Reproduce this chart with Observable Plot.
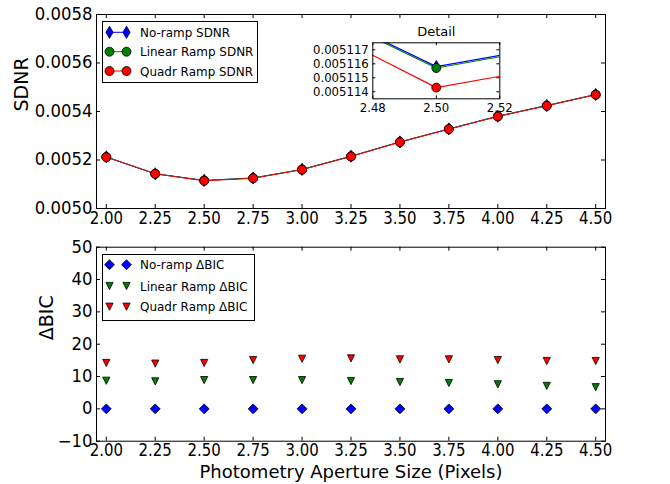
<!DOCTYPE html>
<html><head><meta charset="utf-8">
<script src="https://cdn.jsdelivr.net/npm/d3@7"></script>
<script src="https://cdn.jsdelivr.net/npm/@observablehq/plot@0.6"></script>
<style>
body{margin:0;background:#fff;}
#chart{position:relative;width:670px;height:484px;font-family:"DejaVu Sans",sans-serif;background:#fff;}
#chart > *{position:absolute;}
</style></head><body><div id="chart"></div>
<script>
// ---------- data ----------
const apertures = [2.00, 2.25, 2.50, 2.75, 3.00, 3.25, 3.50, 3.75, 4.00, 4.25, 4.50];
const sdnrNoRamp = [0.0052128, 0.0051432, 0.0051158, 0.0051258, 0.0051612, 0.0052156, 0.0052746, 0.0053282, 0.0053806, 0.0054247, 0.0054702];
const sdnrLinear = [0.0052125, 0.0051431, 0.0051157, 0.0051257, 0.0051610, 0.0052154, 0.0052744, 0.0053280, 0.0053804, 0.0054245, 0.0054700];
const sdnrQuadr  = [0.0052116, 0.0051431, 0.0051143, 0.0051244, 0.0051600, 0.0052144, 0.0052734, 0.0053270, 0.0053794, 0.0054235, 0.0054690];
const bicNoRamp = [0, 0, 0, 0, 0, 0, 0, 0, 0, 0, 0];
const bicLinear = [8.7, 8.5, 8.9, 8.9, 8.9, 8.6, 8.3, 8.0, 7.6, 7.1, 6.7];
const bicQuadr  = [14.2, 14.0, 14.2, 15.1, 15.5, 15.6, 15.3, 15.3, 15.1, 14.8, 14.8];
const xTicks = [2.00, 2.25, 2.50, 2.75, 3.00, 3.25, 3.50, 3.75, 4.00, 4.25, 4.50];
const sdnrTicks = [0.0050, 0.0052, 0.0054, 0.0056, 0.0058];
const bicTicks = [-10, 0, 10, 20, 30, 40, 50];
const insetXTicks = [2.48, 2.50, 2.52];
const insetYTicks = [0.005114, 0.005115, 0.005116, 0.005117];
const sdnrLabels = ["No-ramp SDNR", "Linear Ramp SDNR", "Quadr Ramp SDNR"];
const bicLabels = ["No-ramp \u0394BIC", "Linear Ramp \u0394BIC", "Quadr Ramp \u0394BIC"];
const colors = ["#0000ff", "#008000", "#ff0000"];

// ---------- symbols ----------
const symThinDiamond = {draw(c, s){const r=Math.sqrt(s/Math.PI); const h=r*1.35, w=r*0.8; c.moveTo(0,-h);c.lineTo(w,0);c.lineTo(0,h);c.lineTo(-w,0);c.closePath();}};
const symCircle = d3.symbolCircle;
const symDiamond = {draw(c, s){const r=Math.sqrt(s/Math.PI)*1.1; c.moveTo(0,-r);c.lineTo(r,0);c.lineTo(0,r);c.lineTo(-r,0);c.closePath();}};
const symTriDown = {draw(c, s){const a=Math.sqrt(s/Math.PI)*0.9; c.moveTo(0,a);c.lineTo(-a,-a);c.lineTo(a,-a);c.closePath();}};

const chart = document.getElementById("chart");
const FONT = "DejaVu Sans";
const xDomain = [1.95, 4.55];
const W = 670, ML = 96, MR = 65;
const FW = W - ML - MR;

function inwardTicks(xt, yt, fw, fh, len) {
  return [
    Plot.tickX(xt, {x: d => d, insetTop: fh - len, stroke: "black"}),
    Plot.tickX(xt, {x: d => d, insetBottom: fh - len, stroke: "black"}),
    Plot.tickY(yt, {y: d => d, insetRight: fw - len, stroke: "black"}),
    Plot.tickY(yt, {y: d => d, insetLeft: fw - len, stroke: "black"})
  ];
}
// narrow glyphs horizontally (reference text is slightly condensed); run after the svg is in the DOM
function squeeze(root, sel, s, anchor) {
  root.querySelectorAll(sel).forEach(t => {
    const g = document.createElementNS("http://www.w3.org/2000/svg", "g");
    t.parentNode.insertBefore(g, t); g.appendChild(t);
    const b = g.getBBox();
    const cx = anchor === "end" ? b.x + b.width : b.x + b.width / 2;
    g.setAttribute("transform", `translate(${cx},0) scale(${s},1) translate(${-cx},0)`);
  });
}

// ---------- top panel ----------
{
  const H = 232, MT = 14, MB = 24, FH = H - MT - MB;
  const series = [sdnrNoRamp, sdnrLinear, sdnrQuadr];
  const syms = [symThinDiamond, symCircle, symCircle];
  const marks = [...inwardTicks(xTicks, sdnrTicks, FW, FH, 4),
    Plot.axisX(xTicks, {tickSize: 0, tickPadding: 3, tickFormat: ".2f", label: null, fontSize: 17}),
    Plot.axisY(sdnrTicks, {tickSize: 0, tickPadding: 4, tickFormat: ".4f", label: null, fontSize: 17}),
    Plot.text(["SDNR"], {frameAnchor: "left", dx: -75, rotate: -90, fontSize: 19, lineAnchor: "middle"})
  ];
  series.forEach((s, i) => {
    marks.push(Plot.line(apertures, {x: d => d, y: s, stroke: colors[i], strokeWidth: 1}));
    marks.push(Plot.dot(apertures, {x: d => d, y: s, fill: colors[i], stroke: "black", strokeWidth: 0.8, r: 4.5, symbol: syms[i]}));
  });
  marks.push(Plot.frame({stroke: "black", strokeWidth: 1}));
  const p = Plot.plot({width: W, height: H, marginLeft: ML, marginRight: MR, marginTop: MT, marginBottom: MB,
    style: {fontFamily: FONT, fontSize: "15px", background: "transparent", overflow: "visible", color: "black"},
    x: {domain: xDomain}, y: {domain: [0.0050, 0.0058]}, marks});
  p.style.left = "0px"; p.style.top = "0px";
  chart.appendChild(p);
  squeeze(p, 'g[aria-label="x-axis tick label"] text', 0.88, "middle");
  squeeze(p, 'g[aria-label="y-axis tick label"] text', 0.97, "end");
}

// ---------- inset ----------
{
  const Wi = 210, Hi = 100, mL = 72.3, mR = 10.7, mT = 22.3, mB = 21.7;
  const fw = Wi - mL - mR, fh = Hi - mT - mB;
  const series = [sdnrNoRamp, sdnrLinear, sdnrQuadr];
  const syms = [symThinDiamond, symCircle, symCircle];
  const marks = [Plot.frame({fill: "white"}), ...inwardTicks(insetXTicks, insetYTicks, fw, fh, 3),
    Plot.axisX(insetXTicks, {tickSize: 0, tickPadding: 4, tickFormat: ".2f", label: null, fontSize: 13}),
    Plot.axisY(insetYTicks, {tickSize: 0, tickPadding: 4, tickFormat: ".6f", label: null, fontSize: 13}),
    Plot.text(["Detail"], {frameAnchor: "top", dy: -10.6, fontSize: 13, lineAnchor: "middle"})
  ];
  series.forEach((s, i) => {
    marks.push(Plot.line(apertures, {x: d => d, y: s, stroke: colors[i], strokeWidth: 1.2, clip: true}));
    marks.push(Plot.dot(apertures, {x: d => d, y: s, fill: colors[i], stroke: "black", strokeWidth: 0.8, r: 4.5, symbol: syms[i], clip: true}));
  });
  marks.push(Plot.frame({stroke: "black", strokeWidth: 1}));
  const p = Plot.plot({width: Wi, height: Hi, marginLeft: mL, marginRight: mR, marginTop: mT, marginBottom: mB,
    style: {fontFamily: FONT, fontSize: "12px", background: "transparent", overflow: "visible", color: "black"},
    x: {domain: [2.48, 2.52]}, y: {domain: [0.0051135, 0.0051175]}, marks});
  p.style.left = "300px"; p.style.top = "20px";
  chart.appendChild(p);
  squeeze(p, 'g[aria-label="x-axis tick label"] text', 0.9, "middle");
  squeeze(p, 'g[aria-label="y-axis tick label"] text', 0.9, "end");
}

// ---------- bottom panel ----------
{
  const H = 254, MT = 16.7, MB = 43.3, FH = H - MT - MB;
  const series = [bicNoRamp, bicLinear, bicQuadr];
  const syms = [symDiamond, symTriDown, symTriDown];
  const rs = [4.5, 4, 4];
  const marks = [...inwardTicks(xTicks, bicTicks, FW, FH, 4),
    Plot.axisX(xTicks, {tickSize: 0, tickPadding: 3, tickFormat: ".2f", label: null, fontSize: 17}),
    Plot.axisY(bicTicks, {tickSize: 0, tickPadding: 4, tickFormat: d => d3.format("d")(d), label: null, fontSize: 17}),
    Plot.text(["\u0394BIC"], {frameAnchor: "left", dx: -50, dy: -4, rotate: -90, fontSize: 19, lineAnchor: "middle"}),
    Plot.text(["Photometry Aperture Size (Pixels)"], {frameAnchor: "bottom", dy: 31.5, fontSize: 18, lineAnchor: "middle"})
  ];
  series.forEach((s, i) => {
    marks.push(Plot.dot(apertures, {x: d => d, y: s, fill: colors[i], stroke: "black", strokeWidth: 0.8, r: rs[i], symbol: syms[i]}));
  });
  marks.push(Plot.frame({stroke: "black", strokeWidth: 1}));
  const p = Plot.plot({width: W, height: H, marginLeft: ML, marginRight: MR, marginTop: MT, marginBottom: MB,
    style: {fontFamily: FONT, fontSize: "15px", background: "transparent", overflow: "visible", color: "black"},
    x: {domain: xDomain}, y: {domain: [-10, 50]}, marks});
  p.style.left = "0px"; p.style.top = "230px";
  chart.appendChild(p);
  squeeze(p, 'g[aria-label="x-axis tick label"] text', 0.88, "middle");
  squeeze(p, 'g[aria-label="y-axis tick label"] text', 0.97, "end");
}

// ---------- legends ----------
function legend(left, top, w, h, rowYs, labels, syms, rs, withLine) {
  const svg = d3.create("svg").attr("width", w).attr("height", h)
    .style("left", left + "px").style("top", top + "px").style("position", "absolute")
    .style("font-family", FONT).style("font-size", "13px");
  svg.append("rect").attr("x", 0.5).attr("y", 0.5).attr("width", w - 1).attr("height", h - 1)
    .attr("fill", "white").attr("stroke", "black").attr("stroke-width", 1);
  labels.forEach((lab, i) => {
    const y = rowYs[i];
    if (withLine) svg.append("line").attr("x1", 7.5).attr("x2", 24.5).attr("y1", y).attr("y2", y)
      .attr("stroke", colors[i]).attr("stroke-width", 1);
    [7.5, 24.5].forEach(x => {
      svg.append("path").attr("d", d3.symbol(syms[i], rs[i] * rs[i] * Math.PI)())
        .attr("transform", `translate(${x},${y})`).attr("fill", colors[i])
        .attr("stroke", "black").attr("stroke-width", 0.8);
    });
    svg.append("text").attr("transform", `translate(38,${y}) scale(0.92,1)`).attr("dy", "0.36em").text(lab);
  });
  chart.appendChild(svg.node());
}
legend(102, 21, 156, 62, [11.3, 30.7, 50], sdnrLabels, [symThinDiamond, symCircle, symCircle], [4.5, 4.5, 4.5], true);
legend(102, 254, 153, 67, [10.7, 32, 52.7], bicLabels, [symDiamond, symTriDown, symTriDown], [4.5, 4, 4], false);
</script></body></html>
